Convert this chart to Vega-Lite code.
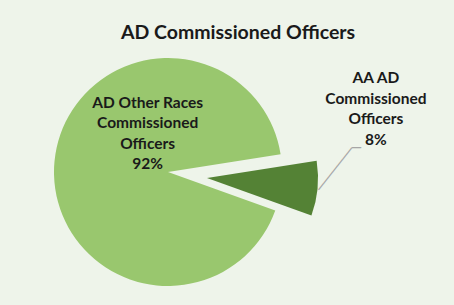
{
  "$schema": "https://vega.github.io/schema/vega-lite/v6.json",
  "autosize": "none",
  "width": 228,
  "height": 228,
  "padding": {"left": 54, "top": 58, "right": 172, "bottom": 19},
  "background": "#eef4ea",
  "view": {"stroke": null},
  "title": {
    "text": "AD Commissioned Officers",
    "frame": "group",
    "anchor": "middle",
    "dx": 70,
    "offset": 0,
    "baseline": "alphabetic",
    "font": "Lato",
    "fontSize": 19.5,
    "fontWeight": "bold",
    "color": "#1a1a1a"
  },
  "data": {
    "values": [
      {"cat": "AA AD Commissioned Officers", "value": 8, "label": "AA AD\nCommissioned\nOfficers\n8%"},
      {"cat": "AD Other Races Commissioned Officers", "value": 92, "label": "AD Other Races\nCommissioned\nOfficers\n92%"}
    ]
  },
  "encoding": {
    "theta": {"field": "value", "type": "quantitative", "stack": true, "scale": {"range": [1.4137, 7.6969]}},
    "order": {"field": "cat", "sort": "ascending"}
  },
  "layer": [
    {
      "mark": {"type": "arc", "radius": 114, "strokeWidth": 0},
      "encoding": {
        "color": {"field": "cat", "type": "nominal", "legend": null, "scale": {"domain": ["AA AD Commissioned Officers", "AD Other Races Commissioned Officers"], "range": ["#548235", "#99c76e"]}},
        "opacity": {"condition": {"test": "datum.cat === 'AA AD Commissioned Officers'", "value": 0}, "value": 1}
      }
    },
    {
      "mark": {"type": "arc", "radius": 111, "strokeWidth": 0, "xOffset": 39, "yOffset": 6},
      "encoding": {
        "color": {"field": "cat", "type": "nominal", "legend": null},
        "opacity": {"condition": {"test": "datum.cat === 'AA AD Commissioned Officers'", "value": 1}, "value": 0}
      }
    },
    {
      "mark": {"type": "text", "radius": 72, "thetaOffset": 1.19, "lineBreak": "\n", "lineHeight": 20.5, "font": "Lato", "fontSize": 15.5, "fontWeight": "bold", "fill": "#1a1a1a", "align": "center", "baseline": "middle"},
      "encoding": {
        "text": {"condition": {"test": "datum.cat === 'AD Other Races Commissioned Officers'", "field": "label"}, "value": ""}
      }
    },
    {
      "mark": {"type": "text", "radius": 228, "thetaOffset": -0.517, "lineBreak": "\n", "lineHeight": 20.5, "font": "Lato", "fontSize": 15.5, "fontWeight": "bold", "fill": "#1a1a1a", "align": "center", "baseline": "middle"},
      "encoding": {
        "text": {"condition": {"test": "datum.cat === 'AA AD Commissioned Officers'", "field": "label"}, "value": ""}
      }
    },
    {
      "mark": {"type": "text", "radius": 167.5, "thetaOffset": -0.112, "angle": -51.8, "font": "DejaVu Sans", "fontSize": 12.7, "fill": "#a6a6a6", "align": "center", "baseline": "middle"},
      "encoding": {
        "text": {"condition": {"test": "datum.cat === 'AA AD Commissioned Officers'", "value": "───────"}, "value": ""}
      }
    },
    {
      "mark": {"type": "text", "radius": 190, "thetaOffset": -0.222, "font": "DejaVu Sans", "fontSize": 15, "fill": "#a6a6a6", "align": "center", "baseline": "middle"},
      "encoding": {
        "text": {"condition": {"test": "datum.cat === 'AA AD Commissioned Officers'", "value": "─"}, "value": ""}
      }
    }
  ]
}
